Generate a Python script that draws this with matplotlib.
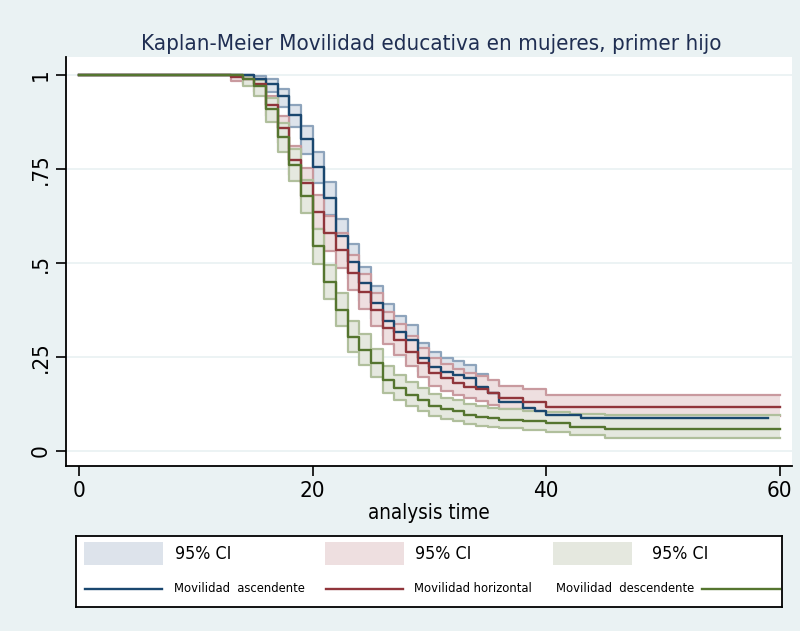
import matplotlib
matplotlib.use("Agg")
import matplotlib.pyplot as plt
from matplotlib import font_manager
from matplotlib.font_manager import FontProperties
from matplotlib.patches import Rectangle

# Pick a narrow sans face (close to the Stata graph font); otherwise Liberation Sans
_narrow = None
_pref = ["liberationsansnarrow-regular", "dejavusanscondensed.", "robotocondensed-regular",
         "opensans_condensed-regular", "notosans-condensed.", "notosanscondensed-regular"]
_files = [f.fname for f in font_manager.fontManager.ttflist]
for key in _pref:
    for fn in _files:
        if key in fn.lower().replace(" ", ""):
            _narrow = fn
            break
    if _narrow:
        break

if _narrow:
    def fprop(size):
        return FontProperties(fname=_narrow, size=size)
    SCALE = 1.0
else:
    def fprop(size):
        return FontProperties(family="Liberation Sans", size=size)
    SCALE = 0.86

# ---------------- data: Kaplan-Meier estimates (step after each time) ----------------
asc_time = [0, 15, 16, 17, 18, 19, 20, 21, 22, 23, 24, 25, 26, 27, 28, 29, 30,
            31, 32, 33, 34, 35, 36, 38, 39, 40, 43]
asc_surv = [1, .990, .977, .943, .895, .830, .755, .673, .573, .503, .446, .394, .347,
            .317, .295, .247, .224, .211, .202, .193, .171, .153, .131, .114, .105, .096, .088]
asc_upper = [1, .998, .990, .962, .920, .865, .795, .715, .618, .550, .490, .438, .390,
             .360, .336, .287, .262, .248, .240, .230, .206, .187, .163, .145, .135, .125, .116]
asc_lower = [1, .970, .955, .915, .862, .790, .712, .628, .527, .458, .400, .350, .305,
             .277, .256, .210, .189, .177, .168, .160, .140, .124, .104, .089, .081, .073, .066]
asc_end = 59

hor_time = [0, 13, 14, 15, 16, 17, 18, 19, 20, 21, 22, 23, 24, 25, 26, 27, 28, 29,
            30, 31, 32, 33, 34, 35, 36, 38, 40]
hor_surv = [1, .996, .990, .975, .920, .858, .775, .713, .636, .579, .535, .474, .424,
            .375, .326, .295, .264, .233, .207, .193, .180, .171, .164, .153, .140, .131, .118]
hor_upper = [1, 1.0, .998, .990, .945, .890, .810, .752, .680, .625, .580, .520, .470,
             .420, .370, .338, .306, .273, .246, .232, .218, .208, .200, .188, .174, .164, .148]
hor_lower = [1, .985, .975, .955, .890, .820, .735, .670, .590, .532, .488, .428, .378,
             .332, .284, .255, .226, .197, .173, .160, .148, .140, .133, .123, .112, .104, .092]
hor_end = 60

des_time = [0, 14, 15, 16, 17, 18, 19, 20, 21, 22, 23, 24, 25, 26, 27, 28, 29, 30,
            31, 32, 33, 34, 35, 36, 38, 40, 42, 45]
des_surv = [1, .989, .971, .911, .836, .761, .678, .545, .450, .375, .304, .269, .233,
            .189, .167, .149, .135, .120, .111, .105, .096, .091, .087, .083, .080, .074,
            .065, .0585]
des_upper = [1, .997, .986, .940, .873, .802, .720, .590, .495, .420, .346, .310, .272,
             .226, .203, .183, .168, .152, .142, .135, .125, .120, .115, .111, .107, .104,
             .098, .096]
des_lower = [1, .970, .945, .875, .795, .718, .632, .498, .405, .332, .263, .230, .196,
             .155, .135, .119, .106, .093, .085, .079, .071, .067, .063, .060, .057, .051,
             .043, .035]
des_end = 60

x_ticks = [0, 20, 40, 60]
y_ticks = [0, .25, .5, .75, 1]
y_tick_labels = ["0", ".25", ".5", ".75", "1"]
title = "Kaplan-Meier Movilidad educativa en mujeres, primer hijo"
x_label = "analysis time"
ci_label = "95% CI"
group_labels = ["Movilidad  ascendente", "Movilidad horizontal", "Movilidad  descendente"]

# ---------------- styling ----------------
BG = "#EAF2F3"
line_colors = ["#1A476F", "#90353B", "#55752F"]
fill_colors = ["#DDE3EB", "#EEDFE0", "#E5E8DF"]
edge_colors = ["#8EA4BC", "#C99A9F", "#B0BF9C"]

fig = plt.figure(figsize=(8.0, 6.31), dpi=100, facecolor=BG)
ax = fig.add_axes([66 / 800, 1 - 466 / 631, (792 - 66) / 800, (466 - 57) / 631])
ax.set_facecolor("white")

series = [
    (asc_time, asc_surv, asc_lower, asc_upper, asc_end),
    (hor_time, hor_surv, hor_lower, hor_upper, hor_end),
    (des_time, des_surv, des_lower, des_upper, des_end),
]

# grid lines
for yv in y_ticks:
    ax.axhline(yv, color=BG, lw=1.3, zorder=0.5)

# confidence bands first (in group order), then survivor lines on top
for i, (t, s, lo, hi, end) in enumerate(series):
    tt = list(t) + [end]
    lo2 = list(lo) + [lo[-1]]
    hi2 = list(hi) + [hi[-1]]
    ax.fill_between(tt, lo2, hi2, step="post", color=fill_colors[i], lw=0, zorder=1 + i)
    ax.step(tt, lo2, where="post", color=edge_colors[i], lw=1.6, zorder=1.5 + i)
    ax.step(tt, hi2, where="post", color=edge_colors[i], lw=1.6, zorder=1.5 + i)

for i, (t, s, lo, hi, end) in enumerate(series):
    tt = list(t) + [end]
    ss = list(s) + [s[-1]]
    ax.step(tt, ss, where="post", color=line_colors[i], lw=1.7, zorder=10 + i)

ax.set_xlim(-1.11, 61.04)
ax.set_ylim(-0.04, 1.048)
ax.set_xticks(x_ticks)
ax.set_xticklabels([str(v) for v in x_ticks], fontproperties=fprop(16 * SCALE))
ax.set_yticks(y_ticks)
ax.set_yticklabels(y_tick_labels, rotation=90, va="center",
                   fontproperties=fprop(16 * SCALE))
ax.tick_params(axis="both", length=7, width=1.2, color="black", pad=4)
for side in ("top", "right"):
    ax.spines[side].set_visible(False)
for side in ("left", "bottom"):
    ax.spines[side].set_color("black")
    ax.spines[side].set_linewidth(1.3)
ax.set_xlabel(x_label, fontproperties=fprop(14.8 * SCALE), labelpad=1)
fig.text(431 / 800, 1 - 44 / 631, title, ha="center", va="center",
         fontproperties=fprop(16 * SCALE), color="#1F2E52")

# ---------------- legend box ----------------
lg = fig.add_axes([76 / 800, 1 - 607 / 631, (782 - 76) / 800, (607 - 536) / 631])
lg.set_xlim(76, 782)
lg.set_ylim(607, 536)
lg.set_xticks([])
lg.set_yticks([])
lg.set_facecolor("white")
for sp in lg.spines.values():
    sp.set_color("black")
    sp.set_linewidth(1.3)

swatch_x = [84, 325, 553]
ci_text_x = [175, 415, 652]
for i in range(3):
    lg.add_patch(Rectangle((swatch_x[i], 542), 79, 23, color=fill_colors[i], lw=0))
    lg.text(ci_text_x[i], 554, ci_label, va="center", ha="left",
            fontproperties=fprop(12.8 * SCALE))

line_spans = [(85, 162), (326, 403), (702, 780)]
label_x = [174, 414, 556]
for i in range(3):
    lg.plot(line_spans[i], [589, 589], color=line_colors[i], lw=1.7)
    lg.text(label_x[i], 589, group_labels[i], va="center", ha="left",
            fontproperties=fprop(9.3 * SCALE))

fig.savefig("out.png", dpi=100, facecolor=BG)
